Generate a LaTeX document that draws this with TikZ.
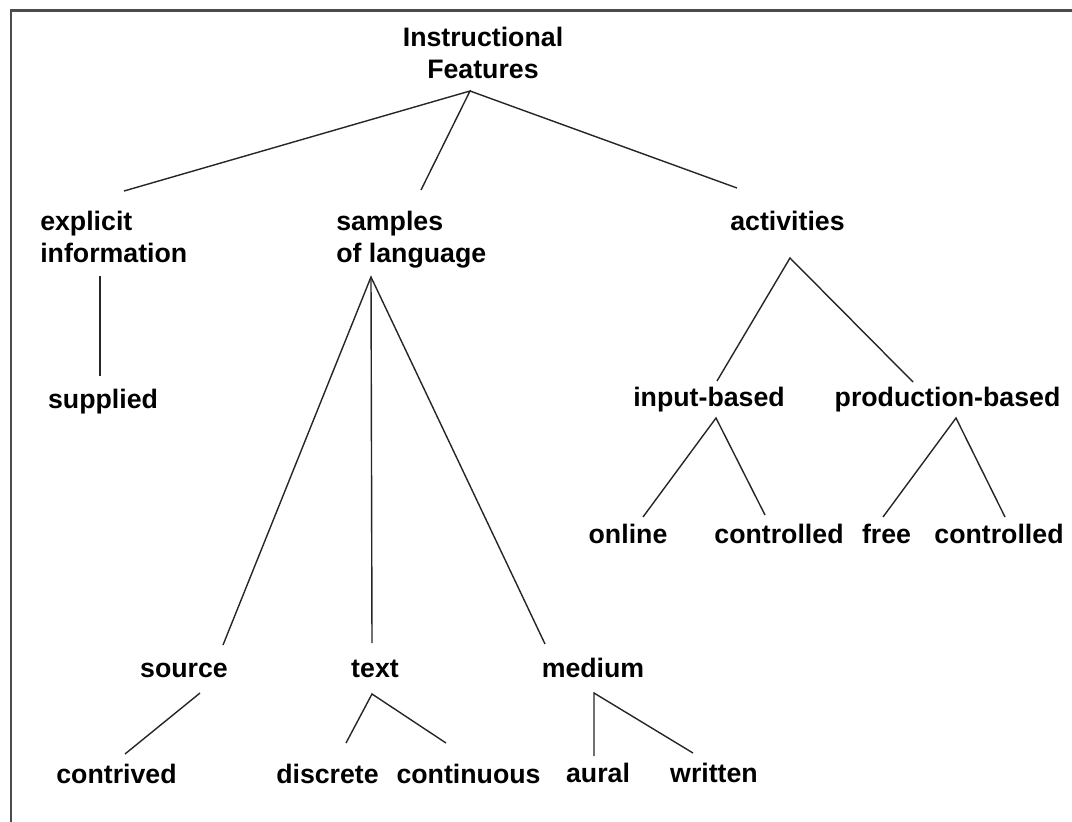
\documentclass[tikz,border=0pt]{standalone}
\usepackage{fontspec}
\setmainfont{Liberation Sans}
\begin{document}
\begin{tikzpicture}[x=0.025cm,y=-0.025cm]
		\tikzstyle{feat}=[inner sep=0pt, font=\bfseries\fontsize{19}{22.5}\selectfont, anchor=base]
		\tikzstyle{feat two}=[feat, align=left, anchor=base west]
		\tikzstyle{branch}=[draw=black!85, line width=1pt]
		\tikzstyle{frame}=[draw=black!70, line width=1.5pt]

		\useasboundingbox (0,0) rectangle (1072,822);
		\draw [frame] (11,822) -- (11,10.5) -- (1072,10.5);

		% labels
		\node [feat, align=center] (root) at (483,78) {Instructional\\Features};
		\node [feat two] (expl) at (40,262) {explicit\\information};
		\node [feat two] (samp) at (336,262) {samples\\of language};
		\node [feat] (act) at (787.5,230) {activities};
		\node [feat] (supp) at (103,408) {supplied};
		\node [feat] (inp) at (709,406) {input-based};
		\node [feat] (prod) at (947.5,406) {production-based};
		\node [feat] (online) at (628,543) {online};
		\node [feat] (ctrl in) at (779,543) {controlled};
		\node [feat] (free) at (886.5,543) {free};
		\node [feat] (ctrl prod) at (999,543) {controlled};
		\node [feat] (src) at (184,677) {source};
		\node [feat] (text) at (375,677) {text};
		\node [feat] (med) at (593,677) {medium};
		\node [feat] (contr) at (116.5,783) {contrived};
		\node [feat] (disc) at (327.5,783) {discrete};
		\node [feat] (cont) at (468.5,783) {continuous};
		\node [feat] (aural) at (598,782) {aural};
		\node [feat] (writ) at (714,782) {written};

		% joints
		\coordinate (root-b) at (470,91);
		\coordinate (expl-t) at (124,191);
		\coordinate (samp-t) at (421,190);
		\coordinate (act-t) at (737,188);
		\coordinate (expl-b) at (100,276);
		\coordinate (supp-t) at (100,376);
		\coordinate (samp-b) at (371,277);
		\coordinate (src-t) at (223,645);
		\coordinate (text-t) at (372,643);
		\coordinate (med-t) at (545,644);
		\coordinate (act-b) at (790,258);
		\coordinate (inp-t) at (717,381);
		\coordinate (prod-t) at (913,382);
		\coordinate (inp-b) at (716,418);
		\coordinate (online-t) at (643,517);
		\coordinate (ctrl in-t) at (765,515);
		\coordinate (prod-b) at (956,418);
		\coordinate (free-t) at (883,517);
		\coordinate (ctrl prod-t) at (1005,517);
		\coordinate (src-b) at (200,693);
		\coordinate (contr-t) at (125,754);
		\coordinate (text-b) at (372,694);
		\coordinate (disc-t) at (346,743);
		\coordinate (cont-t) at (446,743);
		\coordinate (med-b) at (594,693);
		\coordinate (aural-t) at (594,756);
		\coordinate (writ-t) at (693,753);

		% branches
		\draw [branch] (expl-t) -- (root-b) -- (samp-t);
		\draw [branch] (root-b) -- (act-t);
		\draw [branch] (expl-b) -- (supp-t);
		\draw [branch] (src-t) -- (samp-b) -- (med-t);
		\draw [branch] (samp-b) -- (text-t);
		\draw [branch] (inp-t) -- (act-b) -- (prod-t);
		\draw [branch] (online-t) -- (inp-b) -- (ctrl in-t);
		\draw [branch] (free-t) -- (prod-b) -- (ctrl prod-t);
		\draw [branch] (src-b) -- (contr-t);
		\draw [branch] (disc-t) -- (text-b) -- (cont-t);
		\draw [branch] (aural-t) -- (med-b) -- (writ-t);
	\end{tikzpicture}
\end{document}
